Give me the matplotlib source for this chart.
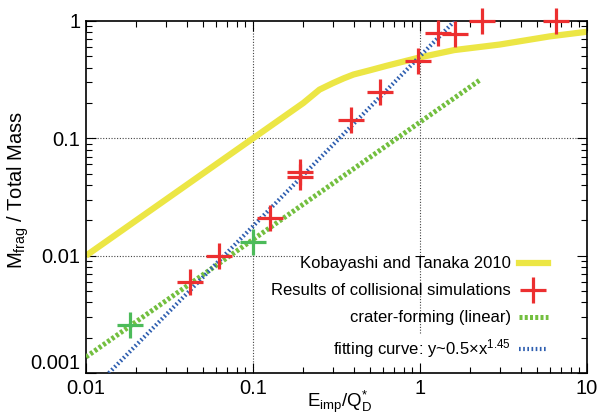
import matplotlib
matplotlib.use('Agg')
import matplotlib.pyplot as plt
from matplotlib.lines import Line2D

plt.rcParams['font.family'] = ['Liberation Sans', 'DejaVu Sans']
plt.rcParams['mathtext.default'] = 'regular'

# Kobayashi & Tanaka 2010 curve
kt_x = [0.01, 0.1, 0.2, 0.25, 0.3, 0.35, 0.4, 0.5, 0.63, 1.0, 1.6, 3.0, 6.0, 10.0]
kt_y = [0.01, 0.1, 0.2, 0.26, 0.295, 0.325, 0.35, 0.38, 0.415, 0.49, 0.565, 0.63, 0.74, 0.81]

# collisional simulation results
sim_x = [0.042, 0.0625, 0.126, 0.19, 0.19, 0.386, 0.575, 0.97, 1.28, 1.62, 2.35, 6.5]
sim_y = [0.006, 0.010, 0.021, 0.0518, 0.0469, 0.144, 0.249, 0.457, 0.79, 0.78, 1.0, 1.0]

# crater-forming runs
crater_x = [0.0183, 0.1]
crater_y = [0.00257, 0.0131]

# crater-forming (linear) line end points
lin_x = [0.01, 2.29]
lin_y = [0.00137, 0.315]

# fitting curve y ~ 0.5 x^1.45 end points
fit_x = [0.0137, 1.61]
fit_y = [0.001, 1.0]

xticks = [0.01, 0.1, 1, 10]
xlabels = ['0.01', '0.1', '1', '10']
yticks = [0.001, 0.01, 0.1, 1]
ylabels = ['0.001', '0.01', '0.1', '1']

YELLOW = '#ece645'
RED = '#ec2f30'
GREEN_LINE = '#73bf3f'
GREEN_PT = '#4cbb5a'
BLUE = '#2f5fb0'

fig = plt.figure(figsize=(6.04, 4.15), dpi=100)
ax = fig.add_axes([0.1424, 0.1012, 0.8295, 0.8482])
ax.set_xscale('log')
ax.set_yscale('log')
ax.set_xlim(0.01, 10)
ax.set_ylim(0.001, 1)

# grid, gnuplot style dotted lines
grid_kw = dict(color='#444444', lw=0.8, ls=(0, (1, 1.5)), zorder=1)
ax.axvline(0.1, **grid_kw)
ax.axvline(1, ymin=0.114, **grid_kw)
ax.axhline(0.1, **grid_kw)
ax.axhline(0.01, xmax=0.433, **grid_kw)

ax.plot(kt_x, kt_y, color=YELLOW, lw=4.5, solid_capstyle='butt', zorder=2)
ax.plot(lin_x, lin_y, color=GREEN_LINE, lw=3.6, ls=(0, (0.6, 0.45)), zorder=3)
ax.plot(fit_x, fit_y, color=BLUE, lw=3.0, ls=(0, (0.4, 0.6)), zorder=4)
ax.plot(sim_x, sim_y, ls='none', marker='+', ms=19, mew=2.3, color=RED, zorder=5,
        clip_on=False)
ax.plot(crater_x, crater_y, ls='none', marker='+', ms=19, mew=2.3, color=GREEN_PT,
        zorder=5)

ax.set_xticks(xticks)
ax.set_xticklabels(xlabels)
ax.set_yticks(yticks)
ax.set_yticklabels(ylabels)
ax.tick_params(which='both', direction='in', top=True, right=True)
ax.tick_params(which='major', length=7, width=0.8, labelsize=14.5, pad=4)
ax.tick_params(which='minor', length=4, width=0.8)
ax.get_yticklabels()[0].set_va('bottom')
for s in ax.spines.values():
    s.set_linewidth(1.2)

ax.set_xlabel(r'E$_{imp}$/Q$^{*}_{D}$', fontsize=13.5)
ax.xaxis.set_label_coords(0.507, -0.044)
ax.set_ylabel(r'M$_{frag}$ / Total Mass', fontsize=14.5)
ax.yaxis.set_label_coords(-0.11, 0.52)

handles = [
    Line2D([], [], color=YELLOW, lw=4.5),
    Line2D([], [], ls='none', marker='+', ms=19, mew=2.3, color=RED),
    Line2D([], [], color=GREEN_LINE, lw=3.6, ls=(0, (0.6, 0.45))),
    Line2D([], [], color=BLUE, lw=3.0, ls=(0, (0.4, 0.6))),
]
labels = ['Kobayashi and Tanaka 2010',
          'Results of collisional simulations',
          'crater-forming (linear)',
          r'fitting curve: y~0.5$\times$x$^{1.45}$']
ax.legend(handles, labels, loc='lower right', bbox_to_anchor=(0.945, 0.003),
          frameon=False, markerfirst=False, fontsize=12, handlelength=1.75,
          handletextpad=0.45, labelspacing=0.72, borderpad=0.2)

fig.savefig('out.png', dpi=100)
